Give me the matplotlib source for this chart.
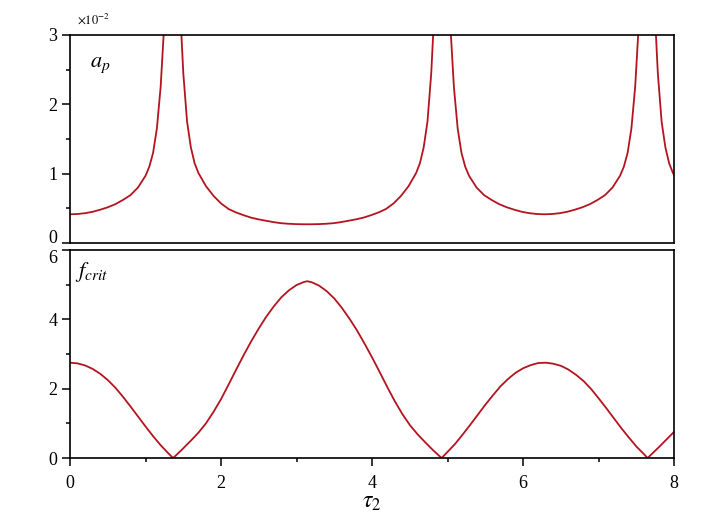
import matplotlib
matplotlib.use("Agg")
import matplotlib.pyplot as plt
from matplotlib.ticker import MultipleLocator

# a_p (x 1e-2)
tau_a = [0.0, 0.1, 0.2, 0.3, 0.4, 0.5, 0.6, 0.7, 0.8, 0.9, 1.0, 1.05, 1.1, 1.15, 1.2, 1.25, 1.3,
         1.42, 1.45, 1.475, 1.5, 1.55, 1.6, 1.65, 1.7, 1.8, 1.9, 2.0, 2.1, 2.2, 2.3, 2.4, 2.5,
         2.6, 2.7, 2.8, 2.9, 3.0, 3.1, 3.142,
         3.183, 3.283, 3.383, 3.483, 3.583, 3.683, 3.783, 3.883, 3.983, 4.083, 4.183, 4.283,
         4.383, 4.483, 4.583, 4.633, 4.683, 4.733, 4.783, 4.808, 4.833, 4.863,
         4.983, 5.033, 5.083, 5.133, 5.183, 5.233, 5.283, 5.383, 5.483, 5.583, 5.683, 5.783,
         5.883, 5.983, 6.083, 6.183, 6.283,
         6.383, 6.483, 6.583, 6.683, 6.783, 6.883, 6.983, 7.083, 7.183, 7.283, 7.333, 7.383,
         7.433, 7.483, 7.533, 7.583,
         7.703, 7.733, 7.758, 7.783, 7.833, 7.883, 7.933, 7.983, 8.0]
a_p = [0.414, 0.418, 0.43, 0.45, 0.48, 0.515, 0.56, 0.62, 0.69, 0.80, 0.97, 1.10, 1.30, 1.65, 2.25, 3.2, 5.5,
       5.5, 3.6, 3.0, 2.45, 1.75, 1.38, 1.15, 1.01, 0.82, 0.68, 0.57, 0.49, 0.44, 0.40, 0.365, 0.34,
       0.32, 0.30, 0.285, 0.277, 0.272, 0.270, 0.270,
       0.270, 0.272, 0.277, 0.285, 0.30, 0.32, 0.34, 0.365, 0.40, 0.44, 0.49, 0.57,
       0.68, 0.82, 1.01, 1.15, 1.38, 1.75, 2.45, 3.0, 3.6, 5.5,
       5.5, 3.2, 2.25, 1.65, 1.30, 1.10, 0.97, 0.80, 0.69, 0.62, 0.56, 0.515,
       0.48, 0.45, 0.43, 0.418, 0.414,
       0.418, 0.43, 0.45, 0.48, 0.515, 0.56, 0.62, 0.69, 0.80, 0.97, 1.10, 1.30,
       1.65, 2.25, 3.2, 5.5,
       5.5, 3.6, 3.0, 2.45, 1.75, 1.38, 1.15, 1.01, 0.98]

# f_crit
tau_f = [0.0, 0.1, 0.2, 0.3, 0.4, 0.5, 0.6, 0.7, 0.8, 0.9, 1.0, 1.1, 1.2, 1.3, 1.364,
         1.4, 1.5, 1.6, 1.7, 1.8, 1.9, 2.0, 2.1, 2.2, 2.3, 2.4, 2.5, 2.6, 2.7, 2.8, 2.9,
         3.0, 3.1, 3.142, 3.2, 3.3, 3.4, 3.5, 3.6, 3.7, 3.8, 3.9, 4.0, 4.1, 4.2, 4.3, 4.4,
         4.5, 4.6, 4.7, 4.8, 4.9, 4.92, 5.0, 5.1, 5.2, 5.3, 5.4, 5.5, 5.6, 5.7, 5.8, 5.9,
         6.0, 6.1, 6.2, 6.3, 6.4, 6.5, 6.6, 6.7, 6.8, 6.9, 7.0, 7.1, 7.2, 7.3, 7.4, 7.5,
         7.6, 7.647, 7.7, 7.8, 7.9, 8.0]
f_crit = [2.75, 2.73, 2.67, 2.57, 2.43, 2.25, 2.03, 1.77, 1.49, 1.20, 0.91, 0.63, 0.37, 0.14, 0.0,
          0.07, 0.28, 0.50, 0.73, 1.00, 1.33, 1.70, 2.12, 2.55, 2.97, 3.37, 3.74, 4.08, 4.38, 4.64, 4.84,
          4.99, 5.08, 5.10, 5.07, 4.97, 4.81, 4.60, 4.33, 4.02, 3.68, 3.30, 2.90, 2.48, 2.05, 1.64, 1.27,
          0.95, 0.69, 0.46, 0.24, 0.04, 0.0, 0.18, 0.41, 0.68, 0.96, 1.25, 1.54, 1.81, 2.07, 2.28, 2.46,
          2.59, 2.68, 2.74, 2.75, 2.72, 2.66, 2.55, 2.40, 2.22, 1.99, 1.72, 1.44, 1.15, 0.86, 0.59, 0.33,
          0.11, 0.0, 0.11, 0.32, 0.54, 0.76]

plt.rcParams['font.family'] = ['Liberation Serif', 'DejaVu Serif']
plt.rcParams['mathtext.fontset'] = 'stix'

line_color = '#b3141f'

fig = plt.figure(figsize=(7.1, 5.2), dpi=100)
ax_top = fig.add_axes([0.0986, 0.5327, 0.851, 0.40])
ax_bot = fig.add_axes([0.0986, 0.1192, 0.851, 0.40])

for ax in (ax_top, ax_bot):
    for sp in ax.spines.values():
        sp.set_linewidth(1.2)
    ax.set_xlim(0, 8)
    ax.tick_params(which='both', direction='out', width=1.1, labelsize=13, top=False, right=False)
    ax.tick_params(which='major', length=6, pad=3)
    ax.tick_params(which='minor', length=3)

# top panel
ax_top.plot(tau_a, a_p, color=line_color, lw=1.3)
ax_top.set_ylim(0, 3)
ax_top.set_yticks([0, 1, 2, 3])
ax_top.yaxis.set_minor_locator(MultipleLocator(0.5))
ax_top.tick_params(axis='x', which='both', bottom=False, labelbottom=False)
ax_top.get_yticklabels()[0].set_verticalalignment('baseline')
ax_top.text(0.033, 0.90, r'$a_p$', transform=ax_top.transAxes, fontsize=16, va='top', ha='left')
fig.text(77 / 710, 1 - 19 / 520, r'$\times 10^{-2}$', fontsize=9, va='center', ha='left')

# bottom panel
ax_bot.plot(tau_f, f_crit, color=line_color, lw=1.3)
ax_bot.set_ylim(0, 6)
ax_bot.set_yticks([0, 2, 4, 6])
ax_bot.yaxis.set_minor_locator(MultipleLocator(1))
ax_bot.xaxis.set_major_locator(MultipleLocator(2))
ax_bot.xaxis.set_minor_locator(MultipleLocator(1))
ax_bot.tick_params(axis='x', which='major', pad=6)
ax_bot.get_yticklabels()[-1].set_verticalalignment('top')
ax_bot.text(0.008, 0.95, r'$f_{crit}$', transform=ax_bot.transAxes, fontsize=16, va='top', ha='left')
ax_bot.set_xlabel(r'$\tau_{\mathit{2}}$', fontsize=17, labelpad=0)

fig.savefig('out.png', dpi=100)
